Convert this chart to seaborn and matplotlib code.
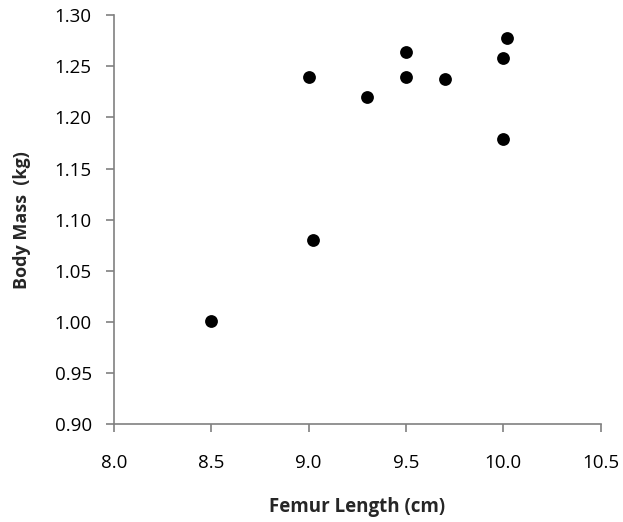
import matplotlib
matplotlib.use("Agg")
import matplotlib.pyplot as plt
import seaborn as sns
import pandas as pd

femur_length = [8.5, 9.0, 9.02, 9.3, 9.5, 9.5, 9.7, 10.0, 10.02, 10.0]
body_mass = [1.001, 1.24, 1.08, 1.22, 1.264, 1.24, 1.238, 1.258, 1.278, 1.179]

x_ticks = [8.0, 8.5, 9.0, 9.5, 10.0, 10.5]
y_ticks = [0.90, 0.95, 1.00, 1.05, 1.10, 1.15, 1.20, 1.25, 1.30]

df = pd.DataFrame({"femur": femur_length, "mass": body_mass})

sns.set_theme(style="white")
plt.rcParams["font.family"] = ["Open Sans", "DejaVu Sans"]

fig = plt.figure(figsize=(6.23, 5.22), dpi=100)
ax = fig.add_axes([0.183, 0.187, 0.781, 0.784])

sns.scatterplot(data=df, x="femur", y="mass", ax=ax, color="black",
                s=85, edgecolor="black", linewidth=0)

ax.set_xlim(8.0, 10.5)
ax.set_ylim(0.90, 1.30)
ax.set_xticks(x_ticks)
ax.set_yticks(y_ticks)
ax.set_xticklabels([f"{v:.1f}" for v in x_ticks])
ax.set_yticklabels([f"{v:.2f}" for v in y_ticks])

sns.despine(ax=ax)
for side in ["left", "bottom"]:
    ax.spines[side].set_color("#808080")
    ax.spines[side].set_linewidth(1.2)

ax.tick_params(axis="both", direction="out", length=6, width=1.2,
               color="#808080", labelsize=13.5, labelcolor="black",
               bottom=True, left=True)
ax.tick_params(axis="x", pad=15)
ax.tick_params(axis="y", pad=10)

ax.set_xlabel("Femur Length (cm)", fontsize=13.5, fontweight="bold", labelpad=18)
ax.set_ylabel("Body Mass  (kg)", fontsize=13, fontweight="bold", labelpad=17)

fig.savefig("out.png", dpi=100)
